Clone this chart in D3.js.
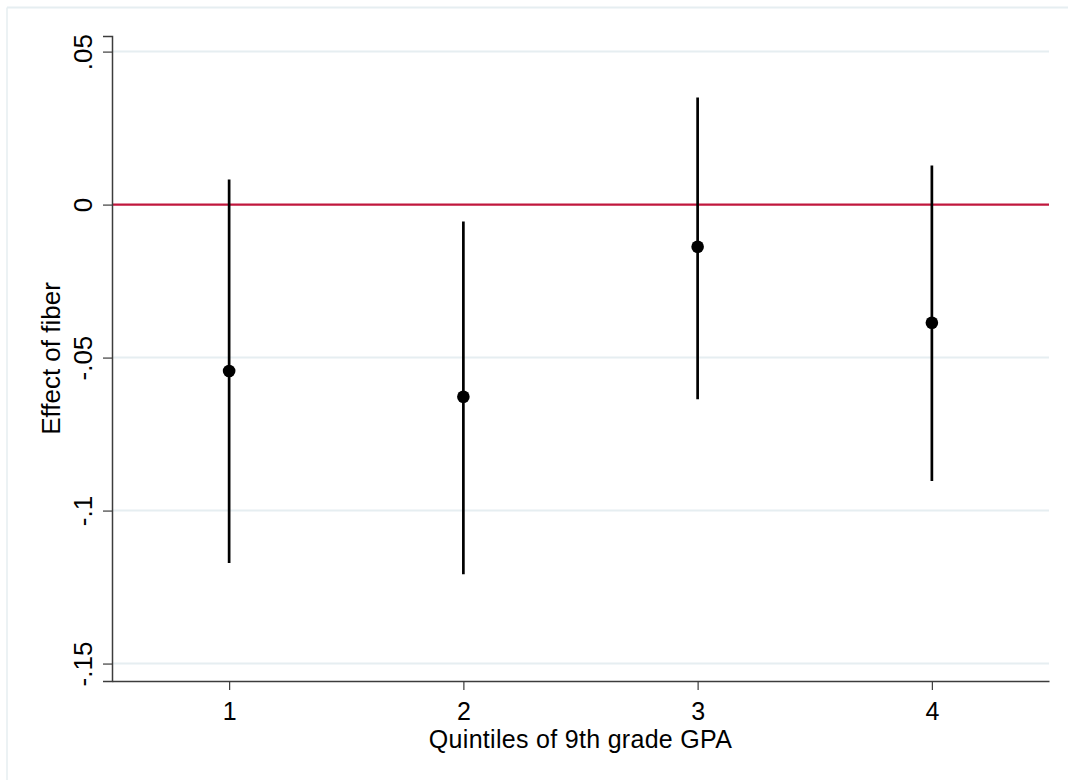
<!DOCTYPE html>
<html>
<head>
<meta charset="utf-8">
<script src="https://cdn.jsdelivr.net/npm/d3@7"></script>
<style>
  body { margin: 0; background: #fff; }
  text { font-family: "Liberation Sans", Arial, sans-serif; fill: #000; }
</style>
</head>
<body>
<script>
const quintiles = [1, 2, 3, 4],
    estimates = [-0.0544, -0.0628, -0.0138, -0.0386],
    ciLower = [-0.1171, -0.1208, -0.0636, -0.0903],
    ciUpper = [0.0082, -0.0055, 0.0350, 0.0128],
    yTicks = [0.05, 0, -0.05, -0.1, -0.15],
    yTickLabels = [".05", "0", "-.05", "-.1", "-.15"];

const width = 1068,
    height = 780,
    margin = { top: 36, right: 19, bottom: 99, left: 112 },
    x = d3.scaleLinear()
        .domain([0.5, 4.5])
        .range([margin.left, width - margin.right]),
    y = d3.scaleLinear()
        .domain([-0.1557, 0.0551])
        .range([height - margin.bottom, margin.top]),
    svg = d3.select("body").append("svg")
        .attr("width", width)
        .attr("height", height);

// light outer frame (top and left edges only are visible)
svg.append("line")
    .attr("x1", 7).attr("x2", width).attr("y1", 7.5).attr("y2", 7.5)
    .attr("stroke", "#e6eef1").attr("stroke-width", 2);
svg.append("line")
    .attr("x1", 7).attr("x2", 7).attr("y1", 7.5).attr("y2", height)
    .attr("stroke", "#e6eef1").attr("stroke-width", 1.5);

// gridlines
svg.append("g")
    .selectAll("line")
    .data(yTicks.filter(d => d !== 0))
    .join("line")
    .attr("x1", x(0.5)).attr("x2", x(4.5))
    .attr("y1", d => y(d)).attr("y2", d => y(d))
    .attr("stroke", "#e6eef1")
    .attr("stroke-width", 2);

// reference line at zero
svg.append("line")
    .attr("x1", x(0.5)).attr("x2", x(4.5))
    .attr("y1", y(0)).attr("y2", y(0))
    .attr("stroke", "#c0173d")
    .attr("stroke-width", 2.2);

// y axis
const yAxis = d3.axisLeft(y)
    .tickValues(yTicks)
    .tickSize(9)
    .tickPadding(11)
    .tickFormat((d, i) => yTickLabels[i]);

const gy = svg.append("g")
    .attr("transform", "translate(" + margin.left + ",0)")
    .call(yAxis);
gy.select(".domain").attr("stroke", "#3c3c3c").attr("stroke-width", 1.5);
gy.selectAll(".tick line").attr("stroke", "#3c3c3c").attr("stroke-width", 1.2);
gy.selectAll(".tick text")
    .attr("font-size", 26)
    .attr("x", null).attr("dy", null)
    .attr("text-anchor", "middle")
    .attr("transform", "translate(-20.5,0) rotate(-90)");

// x axis
const xAxis = d3.axisBottom(x)
    .tickValues(quintiles)
    .tickSize(9)
    .tickPadding(4)
    .tickSizeOuter(0)
    .tickFormat(d3.format("d"));

const gx = svg.append("g")
    .attr("transform", "translate(0," + (height - margin.bottom) + ")")
    .call(xAxis);
gx.select(".domain").attr("stroke", "#3c3c3c").attr("stroke-width", 1.5);
gx.selectAll(".tick line").attr("stroke", "#3c3c3c").attr("stroke-width", 1.2);
gx.selectAll(".tick text")
    .attr("font-size", 25)
    .attr("dy", null)
    .attr("y", 39);
svg.selectAll(".domain").attr("fill", "none");

// axis titles
svg.append("text")
    .attr("x", (x(0.5) + x(4.5)) / 2)
    .attr("y", 748)
    .attr("text-anchor", "middle")
    .attr("font-size", 25)
    .attr("letter-spacing", 0.3)
    .text("Quintiles of 9th grade GPA");

svg.append("text")
    .attr("transform", "translate(60," + (y.range()[0] + y.range()[1]) / 2 + ") rotate(-90)")
    .attr("text-anchor", "middle")
    .attr("font-size", 26)
    .text("Effect of fiber");

// confidence intervals
svg.append("g")
    .selectAll("line")
    .data(quintiles)
    .join("line")
    .attr("x1", d => x(d)).attr("x2", d => x(d))
    .attr("y1", (d, i) => y(ciLower[i]))
    .attr("y2", (d, i) => y(ciUpper[i]))
    .attr("stroke", "#000")
    .attr("stroke-width", 2.7);

// point estimates
svg.append("g")
    .selectAll("circle")
    .data(quintiles)
    .join("circle")
    .attr("cx", d => x(d))
    .attr("cy", (d, i) => y(estimates[i]))
    .attr("r", 6.3)
    .attr("fill", "#000");
</script>
</body>
</html>
